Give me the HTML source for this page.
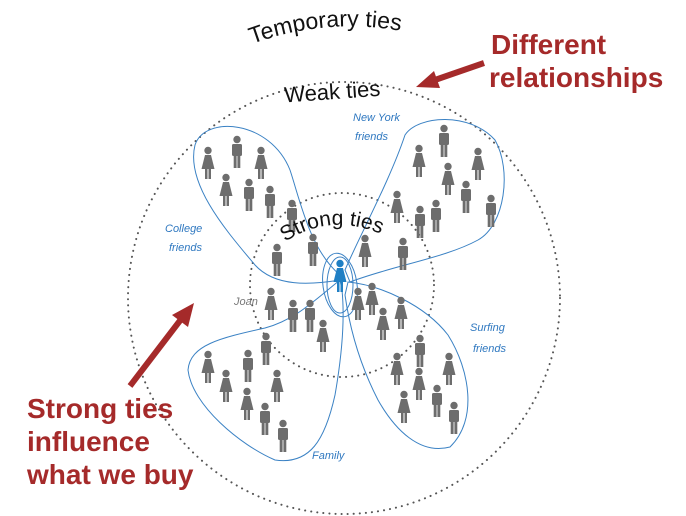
<!DOCTYPE html>
<html><head><meta charset="utf-8"><style>
html,body{margin:0;padding:0;background:#fff;}
svg{display:block;}
</style></head><body>
<svg width="686" height="516" viewBox="0 0 686 516" xmlns="http://www.w3.org/2000/svg">
<defs>
<g id="m" fill="#6d6d6d"><circle cx="0" cy="3.5" r="3.7"/><rect x="-5" y="8" width="10" height="12" rx="1.5"/><rect x="-3.3" y="18" width="2.9" height="14"/><rect x="0.4" y="18" width="2.9" height="14"/></g>
<g id="f" fill="#6d6d6d"><circle cx="0" cy="3.5" r="3.7"/><path d="M-3,8 L3,8 L6.5,22 L-6.5,22 Z"/><rect x="-3" y="20" width="2.5" height="12"/><rect x="0.5" y="20" width="2.5" height="12"/></g>
<path id="arcT" d="M252,44 Q340,12 432,38"/>
<path id="arcS" d="M285,242 Q340,205 408,248"/>
</defs>
<circle cx="344" cy="298" r="216" fill="none" stroke="#555" stroke-width="2" stroke-dasharray="0.1 6" stroke-linecap="round"/>
<circle cx="342" cy="285" r="92" fill="none" stroke="#555" stroke-width="2" stroke-dasharray="0.1 6" stroke-linecap="round"/>
<g fill="none" stroke="#3b82c4" stroke-width="1">
<path d="M340,275 C310,250 300,200 290,170 C270,120 205,115 195,145 C185,185 230,235 255,265 C275,287 310,285 340,280 Z"/>
<path d="M345,270 C360,235 390,180 405,135 C418,115 470,112 495,140 C512,170 505,225 478,240 C445,258 395,265 350,282 Z"/>
<path d="M348,282 C380,285 425,305 448,335 C470,370 478,420 450,447 C420,455 395,430 378,400 C360,365 350,330 345,295 Z"/>
<path d="M340,280 C315,300 295,320 265,328 C220,338 190,345 188,370 C192,405 240,445 275,460 C310,465 325,440 335,395 C342,355 345,320 342,290 Z"/>
<ellipse cx="340" cy="285" rx="13" ry="28"/>
<ellipse cx="340" cy="285" rx="17" ry="32" transform="rotate(-8 340 285)"/>
</g>
<use href="#f" x="208" y="147"/><use href="#m" x="237" y="136"/><use href="#f" x="261" y="147"/>
<use href="#f" x="226" y="174"/><use href="#m" x="249" y="179"/><use href="#m" x="270" y="186"/>
<use href="#m" x="292" y="200"/><use href="#m" x="277" y="244"/><use href="#m" x="313" y="234"/>
<use href="#m" x="444" y="125"/><use href="#f" x="419" y="145"/><use href="#f" x="478" y="148"/>
<use href="#f" x="448" y="163"/><use href="#m" x="466" y="181"/><use href="#m" x="491" y="195"/>
<use href="#f" x="397" y="191"/><use href="#m" x="420" y="206"/><use href="#m" x="436" y="200"/>
<use href="#f" x="365" y="235"/><use href="#m" x="403" y="238"/>
<g fill="#1f7fc4"><circle cx="340" cy="263.5" r="3.7"/><path d="M337,268 L343,268 L346.5,282 L333.5,282 Z"/><rect x="337" y="280" width="2.5" height="12"/><rect x="340.5" y="280" width="2.5" height="12"/></g>
<use href="#f" x="358" y="288"/><use href="#f" x="372" y="283"/><use href="#f" x="383" y="308"/>
<use href="#f" x="401" y="297"/><use href="#m" x="420" y="335"/><use href="#f" x="397" y="353"/>
<use href="#f" x="449" y="353"/><use href="#f" x="419" y="368"/><use href="#m" x="437" y="385"/>
<use href="#f" x="404" y="391"/><use href="#m" x="454" y="402"/>
<use href="#f" x="271" y="288"/><use href="#m" x="293" y="300"/><use href="#m" x="310" y="300"/><use href="#f" x="323" y="320"/>
<use href="#m" x="266" y="333"/><use href="#f" x="208" y="351"/><use href="#f" x="226" y="370"/>
<use href="#m" x="248" y="350"/><use href="#f" x="277" y="370"/><use href="#f" x="247" y="388"/>
<use href="#m" x="265" y="403"/><use href="#m" x="283" y="420"/>
<g font-family="Liberation Sans, sans-serif" fill="#111">
<text font-size="23"><textPath href="#arcT">Temporary ties</textPath></text>
<text x="284" y="100" font-size="22" transform="rotate(-4 320 90)">Weak ties</text>
<text font-size="21"><textPath href="#arcS">Strong ties</textPath></text>
</g>
<g font-family="Liberation Sans, sans-serif" fill="#2f78c0" font-size="11" font-style="italic">
<text x="353" y="121">New York</text><text x="355" y="140">friends</text>
<text x="165" y="232">College</text><text x="169" y="251">friends</text>
<text x="470" y="331">Surfing</text><text x="473" y="352">friends</text>
<text x="312" y="459">Family</text>
</g>
<text x="234" y="305" font-family="Liberation Sans, sans-serif" font-size="11" fill="#777" font-style="italic">Joan</text>
<g font-family="Liberation Sans, sans-serif" fill="#a52a2a" font-weight="bold" font-size="28">
<text x="491" y="54">Different</text><text x="489" y="87">relationships</text>
<text x="27" y="418">Strong ties</text><text x="27" y="451">influence</text><text x="27" y="484">what we buy</text>
</g>
<g fill="#a52a2a" stroke="#a52a2a">
<line x1="484" y1="63" x2="432" y2="81" stroke-width="6"/>
<path d="M416,87 L434,71 L440,88 Z" stroke="none"/>
<line x1="130" y1="386" x2="182" y2="318" stroke-width="6"/>
<path d="M194,303 L172,315 L188,327 Z" stroke="none"/>
</g>
</svg>
</body></html>
